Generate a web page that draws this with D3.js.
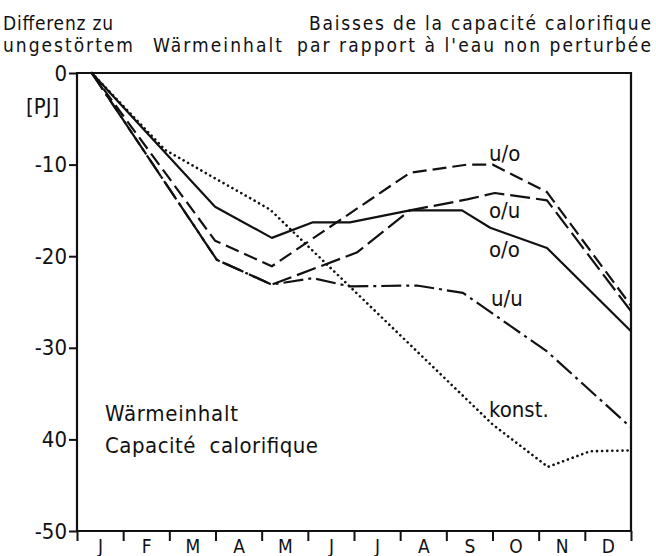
<!DOCTYPE html>
<html><head><meta charset="utf-8">
<script src="https://cdn.jsdelivr.net/npm/d3@7"></script>
<style>
html,body{margin:0;padding:0;background:#fff;}
svg text{font-family:"DejaVu Sans Condensed","Liberation Sans Narrow","Liberation Sans",sans-serif;fill:#111;}
</style></head>
<body>
<svg id="c" width="656" height="556"></svg>
<script>
// ---- data ----
const months = ["J","F","M","A","M","J","J","A","S","O","N","D"];
const yTicks = [0,-10,-20,-30,-40,-50];
const yTickLabels = ["0","-10","-20","-30","40","-50"];

// x positions in months (0 = start of Jan, 12 = end of Dec), y in PJ
const uoX = [0.32, 2.99, 4.22, 7.21, 8.45, 9.0, 10.18, 12];
const uoY = [0, -18.3, -21.1, -10.9, -10.0, -10.0, -13.0, -25.4];

const ouX = [0.32, 3.03, 4.22, 6.06, 7.21, 8.45, 9.05, 10.18, 12];
const ouY = [0, -20.4, -23.1, -19.6, -15.0, -13.8, -13.1, -13.9, -26.0];

const ooX = [0.32, 2.99, 4.22, 5.11, 5.91, 7.21, 8.34, 8.95, 10.18, 12];
const ooY = [0, -14.6, -18.0, -16.3, -16.3, -15.0, -15.0, -16.9, -19.1, -28.2];

const uuX = [0.32, 3.03, 4.22, 5.11, 5.91, 7.36, 8.36, 10.18, 12];
const uuY = [0, -20.4, -23.1, -22.4, -23.3, -23.2, -24.0, -30.4, -38.7];

const konstX = [0.32, 1.91, 4.18, 9.01, 10.2, 11.11, 12];
const konstY = [0, -8.4, -14.9, -38.4, -43.0, -41.3, -41.2];

const seriesNames = ["u/o","o/u","o/o","u/u","konst."];

// ---- drawing ----
const svg = d3.select("#c");
const L = 77, R = 631, T = 73, B = 531;
const x = d3.scaleLinear().domain([0,12]).range([L,R]);
const y = d3.scaleLinear().domain([0,-50]).range([T,B]);

// frame
svg.append("path")
  .attr("d", `M${L},${T}H${R}V${B}H${L}Z`)
  .attr("fill","none").attr("stroke","#111").attr("stroke-width",2.2);

// y axis
const yAx = svg.append("g").attr("transform",`translate(${L},0)`)
  .call(d3.axisLeft(y).tickValues(yTicks).tickFormat((d,i)=>yTickLabels[i]).tickSize(8).tickPadding(2));
yAx.select(".domain").remove();
yAx.selectAll("line").attr("stroke","#111").attr("stroke-width",2);
yAx.selectAll("text").attr("font-size",22).style("font-family",null);

// x axis ticks (month boundaries) below
const xAx = svg.append("g").attr("transform",`translate(0,${B})`)
  .call(d3.axisBottom(x).tickValues(d3.range(0,13)).tickFormat("").tickSize(10));
xAx.select(".domain").remove();
xAx.selectAll("line").attr("stroke","#111").attr("stroke-width",2);

// month labels
const xLab = svg.append("g").attr("transform",`translate(0,${B})`)
  .call(d3.axisBottom(x).tickValues(d3.range(0.5,12,1)).tickFormat((d,i)=>months[i]).tickSize(0).tickPadding(9));
xLab.select(".domain").remove();
xLab.selectAll("text").attr("font-size",19).style("font-family",null);

// lines
const line = d3.line().x(d=>x(d[0])).y(d=>y(d[1]));
const zip = (a,b)=>a.map((v,i)=>[v,b[i]]);
const series = [
  {xs:uoX, ys:uoY, dash:"14,6", cap:"butt"},
  {xs:ouX, ys:ouY, dash:"20,6", cap:"butt"},
  {xs:ooX, ys:ooY, dash:null, cap:"butt"},
  {xs:uuX, ys:uuY, dash:"20,5,3,5", cap:"butt"},
  {xs:konstX, ys:konstY, dash:"0.1,5", cap:"round"}
];
svg.selectAll("path.s").data(series).join("path").attr("class","s")
  .attr("d", d=>line(zip(d.xs,d.ys)))
  .attr("fill","none").attr("stroke","#111")
  .attr("stroke-width", d=>d.cap==="round"?2.6:2.2)
  .attr("stroke-linecap", d=>d.cap)
  .attr("stroke-linejoin","round")
  .attr("stroke-dasharray", d=>d.dash);

// series labels
const labelPos = [[489,161],[489,218],[489,257],[491,306],[489,417]];
svg.selectAll("text.sl").data(seriesNames).join("text").attr("class","sl")
  .attr("x",(d,i)=>labelPos[i][0]).attr("y",(d,i)=>labelPos[i][1])
  .attr("font-size",22).text(d=>d);

// unit label
svg.append("text").attr("x",26).attr("y",114).attr("font-size",22).text("[PJ]");

// headers
const hdr = [
  {t:"Differenz zu", x:3, y:30, w:110, fs:19},
  {t:"ungestörtem", x:3, y:52, w:130, fs:19},
  {t:"Wärmeinhalt", x:153, y:52, w:129, fs:19},
  {t:"Baisses de la capacité calorifique", x:309, y:30, w:342, fs:19},
  {t:"par rapport à l'eau non perturbée", x:297, y:52, w:354, fs:19},
  {t:"Wärmeinhalt", x:105, y:421, w:133, fs:22},
  {t:"Capacité  calorifique", x:105, y:453, w:213, fs:22}
];
svg.selectAll("text.h").data(hdr).join("text").attr("class","h")
  .attr("x",d=>d.x).attr("y",d=>d.y).attr("font-size",d=>d.fs)
  .attr("textLength",d=>d.w).attr("lengthAdjust","spacing")
  .style("white-space","pre")
  .text(d=>d.t);
</script>
</body></html>
